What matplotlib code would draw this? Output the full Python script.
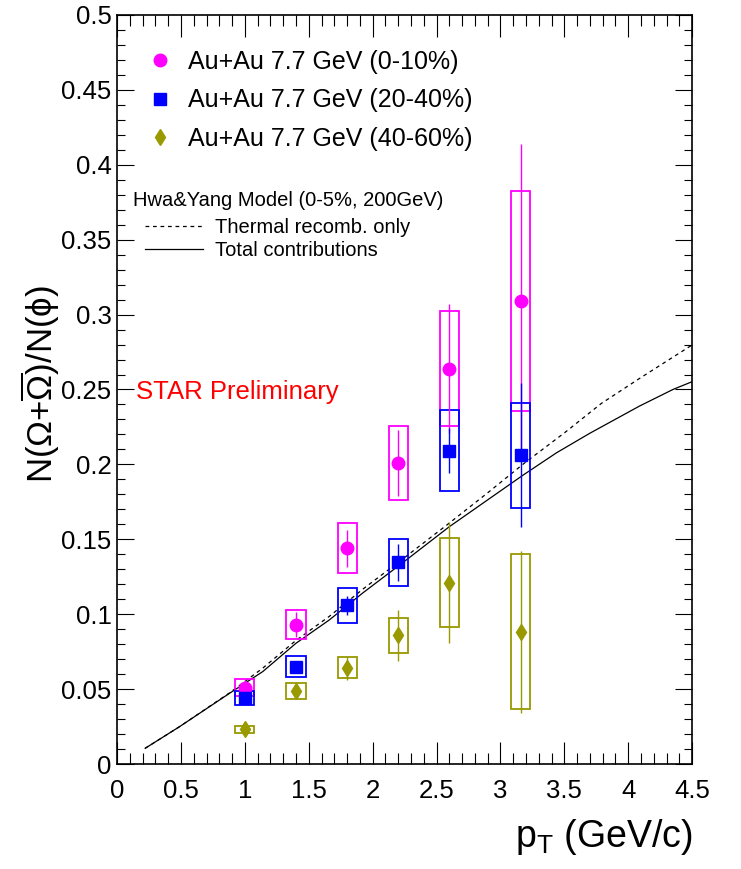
import matplotlib
matplotlib.use('Agg')
import matplotlib.pyplot as plt
from matplotlib.lines import Line2D
from matplotlib.ticker import MultipleLocator, FuncFormatter

plt.rcParams['font.family'] = ['Liberation Sans', 'DejaVu Sans']
plt.rcParams['mathtext.fontset'] = 'custom'
plt.rcParams['mathtext.rm'] = 'Liberation Sans'
plt.rcParams['mathtext.it'] = 'Liberation Sans:italic'

# pT bin centres (GeV/c)
pt = [1.0, 1.4, 1.8, 2.2, 2.6, 3.16]

# Au+Au 7.7 GeV, 0-10%
r_010 = [0.051, 0.093, 0.144, 0.201, 0.264, 0.309]
stat_010 = [0.005, 0.0085, 0.0125, 0.022, 0.043, 0.105]
sys_010 = [0.0055, 0.0095, 0.0167, 0.0245, 0.0387, 0.0735]

# Au+Au 7.7 GeV, 20-40%
r_2040 = [0.044, 0.065, 0.106, 0.1346, 0.209, 0.2061]
stat_2040 = [0.003, 0.003, 0.0063, 0.0124, 0.015, 0.048]
sys_2040 = [0.0045, 0.007, 0.0117, 0.0156, 0.027, 0.035]

# Au+Au 7.7 GeV, 40-60%
r_4060 = [0.0232, 0.0489, 0.0643, 0.0859, 0.121, 0.0883]
stat_4060 = [0.002, 0.003, 0.008, 0.0169, 0.0403, 0.0541]
sys_4060 = [0.0023, 0.0053, 0.007, 0.0117, 0.0298, 0.0519]

# Hwa & Yang recombination model (0-5%, 200 GeV)
total_pt = [0.22, 0.49, 0.88, 1.14, 1.40, 1.66, 1.92, 2.26, 2.60, 2.92, 3.18,
            3.44, 3.70, 4.09, 4.35, 4.5]
total_ratio = [0.0105, 0.025, 0.0472, 0.0617, 0.0806, 0.0961, 0.114, 0.136,
               0.1584, 0.1775, 0.193, 0.2078, 0.2208, 0.239, 0.250, 0.2552]
thermal_pt = [0.22, 0.49, 0.88, 1.14, 1.40, 1.66, 1.92, 2.26, 2.58, 2.9, 3.19,
              3.5, 3.79, 4.1, 4.5]
thermal_ratio = [0.0105, 0.025, 0.0475, 0.064, 0.0825, 0.0985, 0.1165, 0.1385,
                 0.1595, 0.181, 0.201, 0.221, 0.2407, 0.258, 0.2797]

labels = ['Au+Au 7.7 GeV (0-10%)', 'Au+Au 7.7 GeV (20-40%)',
          'Au+Au 7.7 GeV (40-60%)']
colors = ['#ff00ff', '#0000ff', '#999900']
markers = ['o', 's', 'd']
msizes = [9, 9, 8]

fig = plt.figure(figsize=(7.41, 8.69), dpi=100)
ax = fig.add_axes([0.158, 0.1208, 0.776, 0.862])

ax.plot(total_pt, total_ratio, color='k', lw=0.9, zorder=2)
ax.plot(thermal_pt, thermal_ratio, color='k', lw=0.9, ls=(0, (3, 3)), zorder=2)

series = [(r_010, stat_010, sys_010), (r_2040, stat_2040, sys_2040),
          (r_4060, stat_4060, sys_4060)]
for (y, stat, sys), c, m, ms in zip(series, colors, markers, msizes):
    # systematic boxes
    ax.bar(pt, [2 * s for s in sys], bottom=[v - s for v, s in zip(y, sys)],
           width=0.15, fill=False, edgecolor=c, lw=1.3, zorder=3)
    ax.errorbar(pt, y, yerr=stat, fmt=m, color=c, ms=ms, elinewidth=1.0,
                capsize=0, zorder=4)

ax.set_xlim(0, 4.5)
ax.set_ylim(0, 0.5)
ax.xaxis.set_major_locator(MultipleLocator(0.5))
ax.xaxis.set_minor_locator(MultipleLocator(0.1))
ax.yaxis.set_major_locator(MultipleLocator(0.05))
ax.yaxis.set_minor_locator(MultipleLocator(0.01))
fmt = FuncFormatter(lambda v, p: '{:g}'.format(round(v, 3)))
ax.xaxis.set_major_formatter(fmt)
ax.yaxis.set_major_formatter(fmt)
ax.tick_params(which='both', direction='in', top=True, right=True, width=0.8)
ax.tick_params(axis='x', which='major', length=15.8, pad=11, labelsize=18.5)
ax.tick_params(axis='x', which='minor', length=7.9)
ax.tick_params(axis='y', which='major', length=12.2, pad=4, labelsize=18.5)
ax.tick_params(axis='y', which='minor', length=6.1)
for sp in ax.spines.values():
    sp.set_linewidth(1.2)

handles = [Line2D([], [], ls='none', marker=m, color=c, ms=ms)
           for m, c, ms in zip(markers, colors, msizes)]
leg1 = ax.legend(handles, labels, loc='upper left', bbox_to_anchor=(0.053, 0.953),
                 frameon=False, fontsize=18, handlelength=1.0, handletextpad=0.6,
                 labelspacing=0.57, borderpad=0, borderaxespad=0)
ax.add_artist(leg1)

ax.text(0.028, 0.752, 'Hwa&Yang Model (0-5%, 200GeV)', transform=ax.transAxes,
        fontsize=14.5, va='center', ha='left')
model_handles = [Line2D([], [], color='k', lw=0.9, ls=(0, (3, 3))),
                 Line2D([], [], color='k', lw=0.9)]
ax.legend(model_handles, ['Thermal recomb. only', 'Total contributions'],
          loc='upper left', bbox_to_anchor=(0.0487, 0.729), frameon=False,
          fontsize=14.5, handlelength=2.88, handletextpad=0.58,
          labelspacing=0.2, borderpad=0, borderaxespad=0)

ax.text(0.033, 0.4967, 'STAR Preliminary', transform=ax.transAxes,
        color='#ff0000', fontsize=18.5, va='center', ha='left')

fig.text(693 / 741, 22 / 869, r'$\mathrm{p_{T}}$ (GeV/c)', ha='right',
         va='baseline', fontsize=27)
fig.text(40 / 741, 485 / 869, r'N(Ω+$\overline{\mathrm{Ω}}$)/N(ϕ)', rotation=90,
         ha='center', va='center', fontsize=25)

fig.savefig('out.png', dpi=100)
